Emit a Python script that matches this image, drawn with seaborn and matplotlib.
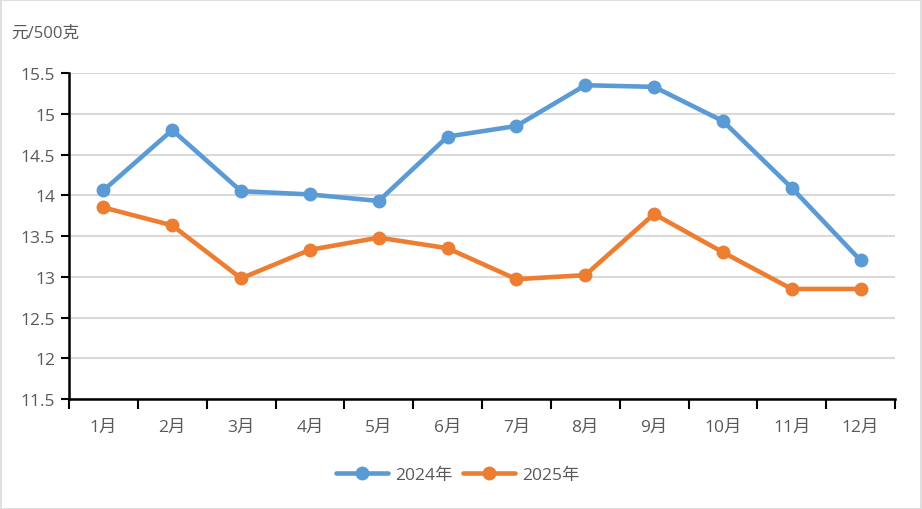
import matplotlib
matplotlib.use("Agg")
import matplotlib.pyplot as plt
import seaborn as sns
import pandas as pd
import numpy as np
from matplotlib.patches import Rectangle

months = ["1月", "2月", "3月", "4月", "5月", "6月", "7月", "8月", "9月", "10月", "11月", "12月"]
y2024 = [14.06, 14.80, 14.05, 14.01, 13.93, 14.72, 14.85, 15.35, 15.33, 14.91, 14.09, 13.20]
y2025 = [13.85, 13.63, 12.98, 13.33, 13.48, 13.35, 12.97, 13.02, 13.77, 13.30, 12.85, 12.85]
series_names = ["2024年", "2025年"]
yticks = [11.5, 12, 12.5, 13, 13.5, 14, 14.5, 15, 15.5]
ytick_labels = ["11.5", "12", "12.5", "13", "13.5", "14", "14.5", "15", "15.5"]
unit_label = "元/500克"

sns.set_theme(style="white")
plt.rcParams["font.family"] = ["Open Sans", "Noto Sans CJK SC", "DejaVu Sans"]

df = pd.DataFrame({
    "idx": list(range(len(months))) * 2,
    "value": y2024 + y2025,
    "series": [series_names[0]] * len(months) + [series_names[1]] * len(months),
})

fig = plt.figure(figsize=(9.22, 5.10), dpi=100)
ax = fig.add_axes([69 / 922, 1 - 400 / 510, (895 - 69) / 922, (400 - 74) / 510])

palette = {series_names[0]: "#5B9BD5", series_names[1]: "#ED7D31"}
sns.lineplot(data=df, x="idx", y="value", hue="series", palette=palette,
             marker="o", markersize=10, markeredgewidth=0, linewidth=3.3,
             sort=False, ax=ax, legend=True, zorder=3)

ax.set_ylim(11.5, 15.5)
ax.set_xlim(-0.5, len(months) - 0.5)
ax.set_yticks(yticks)
ax.set_yticklabels(ytick_labels)
ax.yaxis.grid(True, color="#D9D9D9", linewidth=1.5)
ax.set_axisbelow(True)

# x ticks at category boundaries, labels at centers
ax.set_xticks(np.arange(-0.5, len(months) + 0.5, 1.0))
ax.set_xticklabels([])
ax.set_xticks(np.arange(len(months)), minor=True)
ax.set_xticklabels(months, minor=True)
ax.tick_params(axis="x", which="major", length=7, width=1.5, color="black", direction="out", bottom=True)
ax.tick_params(axis="x", which="minor", length=0, pad=14, labelsize=12.5, labelcolor="#595959")
ax.tick_params(axis="y", length=6, width=1.5, color="black", direction="out", left=True,
               labelsize=12.5, labelcolor="#595959", pad=4)

for s in ["top", "right"]:
    ax.spines[s].set_visible(False)
for s in ["left", "bottom"]:
    ax.spines[s].set_color("black")
    ax.spines[s].set_linewidth(1.8)

ax.set_xlabel("")
ax.set_ylabel("")

handles, labels = ax.get_legend_handles_labels()
ax.get_legend().remove()
fig.legend(handles, labels, loc="center", bbox_to_anchor=(458 / 922, 1 - 476 / 510),
           ncol=2, frameon=False, fontsize=12.5, handlelength=3.0, columnspacing=0.6,
           handletextpad=0.4, labelcolor="#595959")

fig.text(11 / 922, 1 - 34 / 510, unit_label, fontsize=12, color="#595959", va="center", ha="left")

fig.patches.append(Rectangle((0.5 / 922, 0.5 / 510), 1 - 1.5 / 922, 1 - 1.5 / 510,
                             transform=fig.transFigure, fill=False, edgecolor="#D9D9D9",
                             linewidth=1.2))

fig.savefig("out.png", dpi=100)
